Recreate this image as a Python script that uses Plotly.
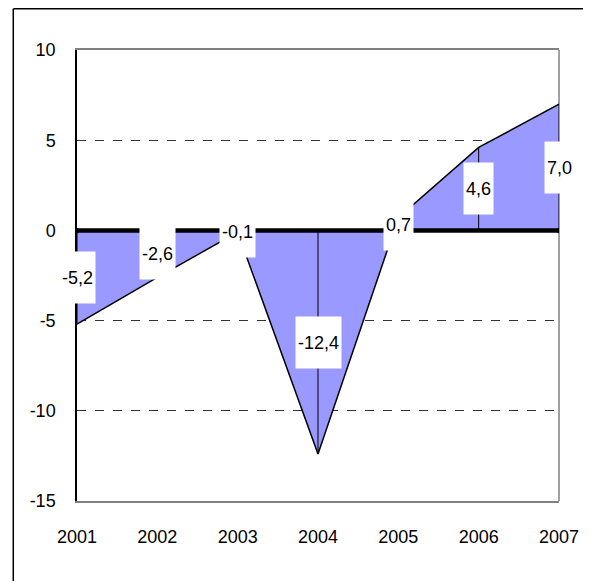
import plotly.graph_objects as go

years = [2001, 2002, 2003, 2004, 2005, 2006, 2007]
values = [-5.2, -2.6, -0.1, -12.4, 0.7, 4.6, 7.0]
labels = ["-5,2", "-2,6", "-0,1", "-12,4", "0,7", "4,6", "7,0"]
y_ticks = [-15, -10, -5, 0, 5, 10]
y_tick_text = ["-15", "-10", "-5", "0", "5", "10"]

FONT = "Liberation Sans Narrow, Arial Narrow, Liberation Sans, Arial"

fig = go.Figure()

# filled area
fig.add_trace(go.Scatter(
    x=years, y=values, mode="lines", fill="tozeroy",
    fillcolor="#9999FF", line=dict(color="black", width=1.5),
    hoverinfo="skip", showlegend=False))

# drop lines
dx, dy = [], []
for x, v in zip(years, values):
    dx += [x, x, None]
    dy += [v, 0, None]
fig.add_trace(go.Scatter(x=dx, y=dy, mode="lines",
                         line=dict(color="black", width=1),
                         hoverinfo="skip", showlegend=False))

# thick zero line
fig.add_trace(go.Scatter(x=[years[0], years[-1]], y=[0, 0], mode="lines+markers",
                         line=dict(color="black", width=4.5),
                         marker=dict(color="black", size=5),
                         hoverinfo="skip", showlegend=False))

for x, v, t in zip(years, values, labels):
    fig.add_annotation(x=x, y=v / 2, text=t, showarrow=False,
                       bgcolor="white", borderpad=2, height=47,
                       font=dict(family=FONT, size=18, color="black"))

# plot area in figure px: x 69..553, y 42..493 (figure 583x573)
def px_x(p):
    return (p - 69) / 484.0

def px_y(p):
    return (493 - p) / 451.0

shapes = [
    # outer frame (top + left)
    dict(type="line", xref="paper", yref="paper", x0=px_x(5), x1=px_x(600), y0=px_y(0.8), y1=px_y(0.8),
         line=dict(color="black", width=1.5)),
    dict(type="line", xref="paper", yref="paper", x0=px_x(5), x1=px_x(5), y0=px_y(0.8), y1=px_y(600),
         line=dict(color="black", width=1.5)),
    # right plot border
    dict(type="line", xref="paper", yref="paper", x0=1, x1=1, y0=0, y1=1,
         line=dict(color="#808080", width=1.5), layer="below"),
]

fig.update_layout(
    width=583, height=573,
    margin=dict(l=69, r=30, t=42, b=80),
    paper_bgcolor="white", plot_bgcolor="white",
    font=dict(family=FONT, size=18, color="black"),
    shapes=shapes,
    xaxis=dict(range=[2001, 2007], tickvals=years, ticktext=[str(y) for y in years],
               showgrid=False, zeroline=False, showline=True, linecolor="#808080",
               linewidth=1.5, mirror=True, ticks="", ticklabelstandoff=19),
    yaxis=dict(range=[-15, 10], tickvals=y_ticks, ticktext=y_tick_text, showgrid=True,
               gridcolor="#333333", griddash="dash", gridwidth=1, zeroline=False,
               showline=True, linecolor="black", linewidth=1.5, ticks="",
               ticklabelstandoff=16),
)

fig.write_html("out.html")
